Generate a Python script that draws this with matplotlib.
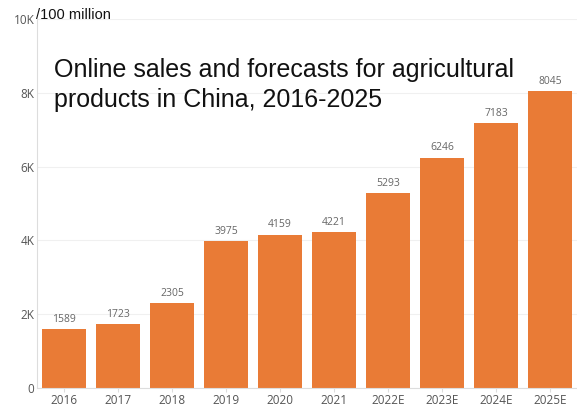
import matplotlib
matplotlib.use("Agg")
import matplotlib.pyplot as plt

categories = ["2016", "2017", "2018", "2019", "2020", "2021", "2022E", "2023E", "2024E", "2025E"]
values = [1589, 1723, 2305, 3975, 4159, 4221, 5293, 6246, 7183, 8045]
yticks = [0, 2000, 4000, 6000, 8000, 10000]
ytick_labels = ["0", "2K", "4K", "6K", "8K", "10K"]
title_lines = ["Online sales and forecasts for agricultural", "products in China, 2016-2025"]

plt.rcParams['font.family'] = ['Liberation Sans', 'DejaVu Sans']
tick_font = ['Open Sans', 'DejaVu Sans']

fig = plt.figure(figsize=(5.77, 4.05), dpi=100)
ax = fig.add_axes([0.064, 0.042, 0.936, 0.911])

x = range(len(categories))
ax.bar(x, values, width=0.8, color="#E97B36", zorder=2)
for xi, v in zip(x, values):
    ax.text(xi, v + 110, str(v), ha="center", va="bottom", fontsize=7.5,
            color="#666666", family=tick_font)

ax.set_xlim(-0.5, len(categories) - 0.5)
ax.set_ylim(0, 10000)
ax.set_yticks(yticks)
ax.set_yticklabels(ytick_labels, family=tick_font)
ax.set_xticks(list(x))
ax.set_xticklabels(categories, family=tick_font)
ax.tick_params(axis="both", labelsize=8.5, colors="#555555", length=0, pad=2)
ax.tick_params(axis="x", length=3, color="#dddddd", pad=1)
ax.grid(axis="y", color="#f0f0f0", linewidth=0.8, zorder=0)
for s in ["top", "right"]:
    ax.spines[s].set_visible(False)
ax.spines["left"].set_color("#dddddd")
ax.spines["bottom"].set_color("#dddddd")

fig.text(0.063, 0.962, "/100 million", fontsize=10.5, color="#111111", ha="left", va="center")
fig.text(0.093, 0.828, title_lines[0], fontsize=18, color="#111111", ha="left", va="center")
fig.text(0.093, 0.752, title_lines[1], fontsize=18, color="#111111", ha="left", va="center")

fig.savefig("out.png", dpi=100)
